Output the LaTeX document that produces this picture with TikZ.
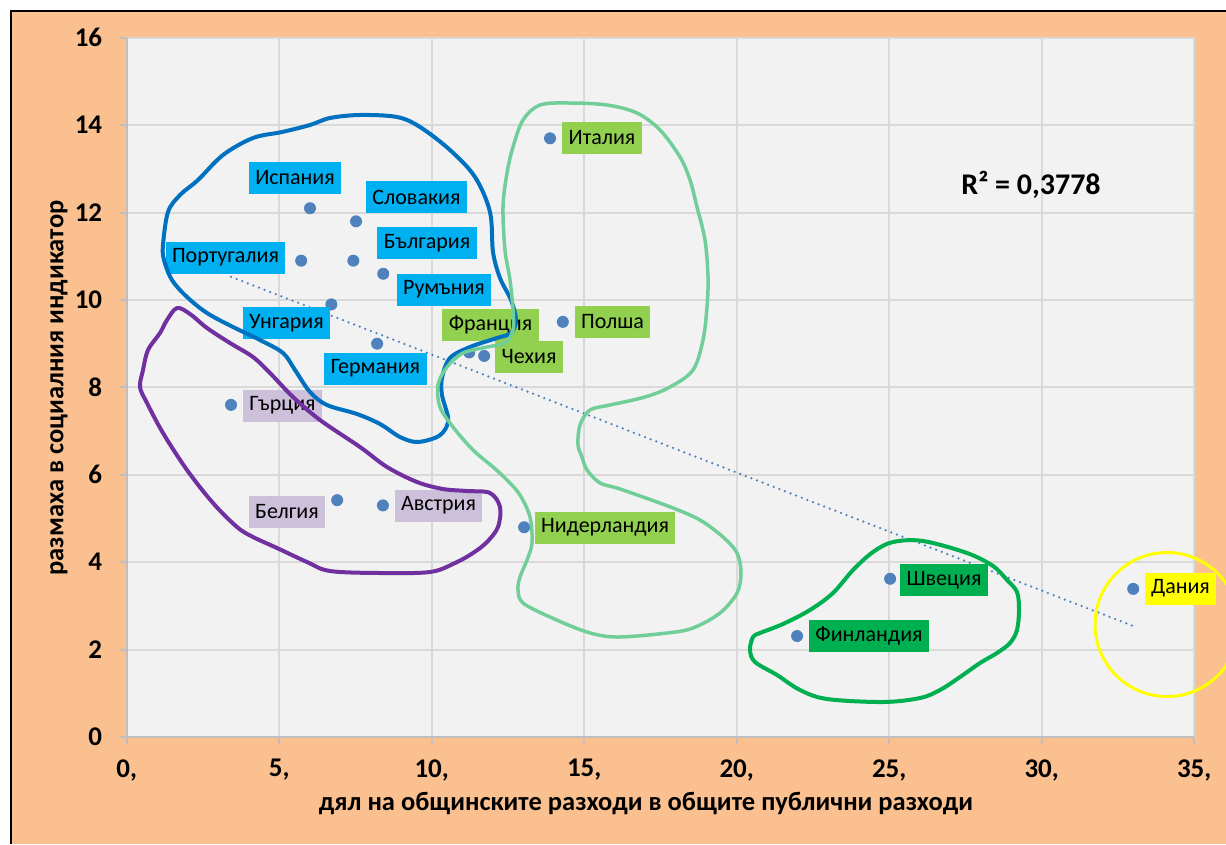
\documentclass[tikz,border=0pt]{standalone}
\usepackage{fontspec}
\setmainfont{Carlito}
\usepackage{tikz}
\usetikzlibrary{calc}
\usetikzlibrary{positioning}
\tikzset{>=latex}
\definecolor{bgorange}{HTML}{FAC090}
\definecolor{plotgray}{HTML}{F2F2F2}
\definecolor{gridgray}{HTML}{D9D9D9}
\definecolor{axisgray}{HTML}{BFBFBF}
\definecolor{dotblue}{HTML}{4F81BD}
\definecolor{lblblue}{HTML}{00B0F0}
\definecolor{lblgreen}{HTML}{92D050}
\definecolor{lbldkgreen}{HTML}{00B050}
\definecolor{lblyellow}{HTML}{FFFF00}
\definecolor{lbllilac}{HTML}{CCC0DA}
\definecolor{ringblue}{HTML}{0070C0}
\definecolor{ringpurple}{HTML}{7030A0}
\definecolor{ringlight}{HTML}{72CE98}
\definecolor{ringgreen}{HTML}{00B050}
\tikzset{
    cdot/.style={circle,fill=dotblue,inner sep=0pt,minimum size=12pt},
    lbl/.style={fill=#1,text=black,inner xsep=6.5pt,inner ysep=0pt,
        minimum height=32pt,font=\fontsize{22}{22}\selectfont},
    ticklbl/.style={font=\bfseries\fontsize{27}{27}\selectfont},
    ttl/.style={font=\bfseries\fontsize{26.5}{26.5}\selectfont},
    ring/.style={line width=4pt,line join=round,#1},
}

\begin{document}
\begin{tikzpicture}[x=1pt,y=-1pt]
    \useasboundingbox (0,0) rectangle (1226,844);
    \fill[white] (0,0) rectangle (1226,844);
    \fill[bgorange] (11,11) rectangle (1226,844);
    \draw[line width=2.5pt] (11,844) -- (11,11) -- (1226,11);

    \begin{scope}[shift={(126.7,737)},x=30.5pt,y=43.7pt]
        \fill[plotgray] (0,0) rectangle (35,16);
        \foreach \i in {5,10,...,35}
            \draw[gridgray,line width=2pt] (\i,0) -- (\i,16);
        \foreach \j in {2,4,...,16}
            \draw[gridgray,line width=2pt] (0,\j) -- (35,\j);
        \draw[axisgray,line width=2pt] (0,16) -- (0,0) -- (35,0);
        \foreach \i in {0,5,...,35} {
            \draw[axisgray,line width=2pt] (\i,0) -- ++(0,-7pt);
            \node[ticklbl] (xt\i) at ($(\i,0)+(0,-33pt)$) {\i,};
        }
        \foreach \j in {0,2,...,16} {
            \draw[axisgray,line width=2pt] (0,\j) -- ++(-7pt,0);
            \node[ticklbl,anchor=east] (yt\j) at ($(0,\j)+(-21pt,0)$) {\j};
        }

        \coordinate (tA) at (3.42,10.53);
        \coordinate (tB) at (33.0,2.54);
        \draw[dotblue,line width=2.5pt,line cap=round,dash pattern=on 0pt off 6pt] (tA) -- (tB);

        \node[cdot] (dES) at (6.01,12.1) {};
        \node[cdot] (dSK) at (7.52,11.8) {};
        \node[cdot] (dPT) at (5.72,10.9) {};
        \node[cdot] (dBG) at (7.43,10.9) {};
        \node[cdot] (dRO) at (8.41,10.6) {};
        \node[cdot] (dHU) at (6.71,9.9) {};
        \node[cdot] (dDE) at (8.21,9.0) {};
        \node[cdot] (dFR) at (11.23,8.8) {};
        \node[cdot] (dCZ) at (11.72,8.72) {};
        \node[cdot] (dIT) at (13.88,13.7) {};
        \node[cdot] (dPL) at (14.3,9.5) {};
        \node[cdot] (dGR) at (3.42,7.6) {};
        \node[cdot] (dBE) at (6.9,5.42) {};
        \node[cdot] (dAT) at (8.4,5.3) {};
        \node[cdot] (dNL) at (13.03,4.8) {};
        \node[cdot] (dSE) at (25.03,3.62) {};
        \node[cdot] (dFI) at (21.98,2.31) {};
        \node[cdot] (dDK) at (33.0,3.39) {};
    \end{scope}

    \node[lbl=lblblue] (lES) at (295,178) {Испания};
    \node[lbl=lblblue] (lSK) at (416.5,197) {Словакия};
    \node[lbl=lblblue] (lPT) at (225.5,257.5) {Португалия};
    \node[lbl=lblblue] (lBG) at (427,243) {България};
    \node[lbl=lblblue] (lRO) at (444,289.5) {Румъния};
    \node[lbl=lblblue] (lHU) at (286.5,323) {Унгария};
    \node[lbl=lblblue] (lDE) at (375.5,368.5) {Германия};
    \node[lbl=lblgreen] (lFR) at (490.5,325) {Франция};
    \node[lbl=lblgreen] (lCZ) at (529,357) {Чехия};
    \node[lbl=lblgreen] (lIT) at (602,137.5) {Италия};
    \node[lbl=lblgreen] (lPL) at (612.5,321.5) {Полша};
    \node[lbl=lbllilac] (lGR) at (282.5,405.5) {Гърция};
    \node[lbl=lbllilac] (lBE) at (287,512) {Белгия};
    \node[lbl=lbllilac] (lAT) at (438.5,505.5) {Австрия};
    \node[lbl=lblgreen] (lNL) at (605,527.5) {Нидерландия};
    \node[lbl=lbldkgreen] (lSE) at (944,580) {Швеция};
    \node[lbl=lbldkgreen] (lFI) at (869,636) {Финландия};
    \node[lbl=lblyellow] (lDK) at (1180.5,588.5) {Дания};

    \node[font=\bfseries\fontsize{30}{30}\selectfont] (rsq) at (1031,185) {R² = 0,3778};
    \node[ttl] (xtitle) at (646,803)
        {дял на общинските разходи в общите публични разходи};
    \node[ttl,rotate=90] (ytitle) at (59,388)
        {размаха в социалния индикатор};

    \draw[ring=ringblue] plot[smooth cycle,tension=0.55] coordinates {
        (163,245) (168,212) (180,195) (198,180) (223,155) (253,138) (282,132)
        (310,125) (330,118) (360,115) (397,117) (420,127) (450,150) (475,177)
        (490,212) (493,252) (500,278) (511,300) (516,320) (511,333) (497,338)
        (470,347) (450,358) (442,378) (442,395) (448,417) (446,428) (437,437)
        (417,442) (400,437) (380,424) (357,414) (327,405) (310,392) (295,370)
        (283,353) (260,340) (233,327) (207,313) (187,297) (172,280) (164,260)};
    \draw[ring=ringpurple] plot[smooth cycle,tension=0.55] coordinates {
        (177,308) (190,314) (207,328) (230,343) (253,357) (270,373) (293,397)
        (320,420) (360,447) (387,467) (417,482) (443,489) (467,491) (490,493)
        (500,507) (498,527) (487,542) (473,553) (455,563) (430,572) (380,573)
        (330,571) (307,562) (277,548) (253,537) (237,527) (213,503) (187,470)
        (163,433) (147,403) (140,387) (143,370) (148,350) (160,333) (167,320)};
    \draw[ring=ringlight,line width=3.5pt] plot[smooth cycle,tension=0.55] coordinates {
        (540,105) (570,103) (607,105) (637,113) (660,130) (680,157) (690,180)
        (697,207) (705,240) (708,277) (707,307) (703,340) (693,370) (670,387)
        (645,397) (610,405) (590,410) (580,425) (578,445) (582,457) (587,470)
        (600,483) (617,488) (643,497) (673,508) (700,520) (723,537) (737,553)
        (741,573) (737,593) (720,613) (693,628) (667,633) (617,637) (587,632)
        (550,617) (523,603) (518,590) (520,577) (527,560) (532,543) (530,517)
        (520,495) (507,480) (493,467) (473,450) (453,427) (440,407) (438,385)
        (447,367) (463,353) (487,347) (505,343) (513,330) (513,310) (510,280)
        (505,250) (503,207) (507,173) (513,147) (523,120)};
    \draw[ring=ringgreen] plot[smooth cycle,tension=0.55] coordinates {
        (893,542) (923,541) (967,553) (993,566) (1007,580) (1017,592) (1019,610)
        (1017,630) (1010,643) (997,653) (980,663) (960,677) (940,690) (920,698)
        (883,702) (827,699) (800,690) (777,675) (755,662) (750,650) (753,637)
        (760,633) (783,624) (810,610) (833,593) (853,570) (873,552)};
    \draw[lblyellow,line width=3pt] (1167,624.5) circle (72pt);
\end{tikzpicture}
\end{document}
